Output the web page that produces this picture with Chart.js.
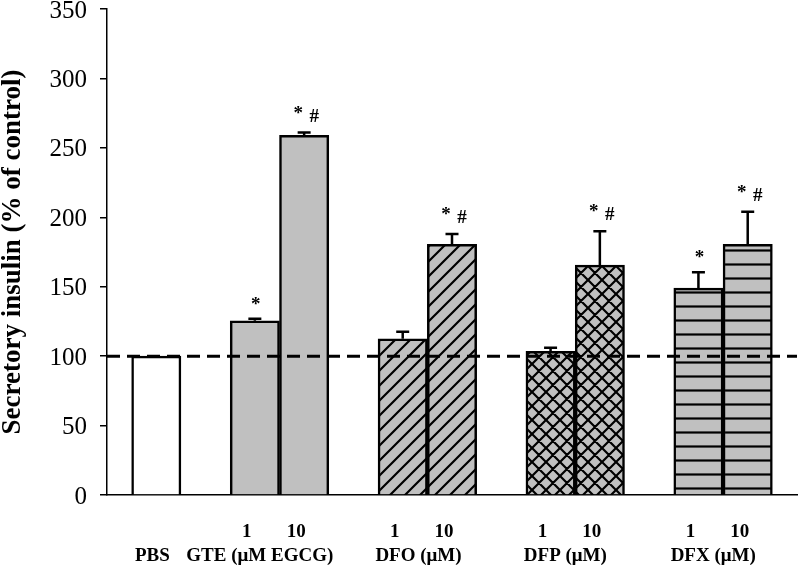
<!DOCTYPE html>
<html>
<head>
<meta charset="utf-8">
<script src="https://cdn.jsdelivr.net/npm/chart.js@4"></script>
<style>
  body { margin: 0; background: #fff; }
  canvas { display: block; }
</style>
</head>
<body>
<canvas id="insulin-chart" width="800" height="573"></canvas>
<script>
// one slot per category, blank slots are the gaps between groups
const categories = ['', 'PBS', '', 'GTE 1', 'GTE 10', '', 'DFO 1', 'DFO 10', '', 'DFP 1', 'DFP 10', '', 'DFX 1', 'DFX 10', ''];
const doses = ['', '', '', '1', '10', '', '1', '10', '', '1', '10', '', '1', '10', ''];
const insulin = [null, 100, null, 125.5, 259, null, 112.5, 180.5, null, 103.5, 165.5, null, 149, 180.5, null];
const sem = [null, 0, null, 1.5, 2, null, 5, 7.5, null, 2.5, 24.5, null, 11.5, 23.5, null];
const marks = ['', '', '', '*', '* #', '', '', '* #', '', '', '* #', '', '*', '* #', ''];
const groups = ['PBS', 'GTE (μM EGCG)', 'DFO (μM)', 'DFP (μM)', 'DFX (μM)'];
const groupTicks = [0.92, 3.1, 6.32, 9.3, 12.3];
const yTicks = [0, 50, 100, 150, 200, 250, 300, 350];
const controlLevel = 100;

const serif = 'Liberation Serif';

function hatch(kind) {
    const s = kind === 'diag' ? 15 : 14;
    const c = document.createElement('canvas');
    c.width = s; c.height = s;
    const g = c.getContext('2d');
    g.fillStyle = '#c0c0c0';
    g.fillRect(0, 0, s, s);
    g.strokeStyle = '#000';
    g.lineWidth = 2.2;
    g.beginPath();
    if (kind === 'diag' || kind === 'cross') {
        g.moveTo(-2, s + 2); g.lineTo(s + 2, -2);
        g.moveTo(-2, 2); g.lineTo(2, -2);
        g.moveTo(s - 2, s + 2); g.lineTo(s + 2, s - 2);
    }
    if (kind === 'cross') {
        g.moveTo(-2, -2); g.lineTo(s + 2, s + 2);
        g.moveTo(s - 2, -2); g.lineTo(s + 2, 2);
        g.moveTo(-2, s - 2); g.lineTo(2, s + 2);
    }
    if (kind === 'horiz') {
        g.moveTo(0, s - 1.5); g.lineTo(s, s - 1.5);
    }
    g.stroke();
    return g.createPattern(c, 'repeat');
}

const gray = '#c0c0c0';
const diag = hatch('diag'), cross = hatch('cross'), horiz = hatch('horiz');
const fills = ['#fff', '#fff', '#fff', gray, gray, '#fff', diag, diag, '#fff', cross, cross, '#fff', horiz, horiz, '#fff'];

// error bars (upper only) and significance marks
const extras = {
    id: 'extras',
    afterDatasetsDraw(chart) {
        const ctx = chart.ctx;
        const x = chart.scales.x, y = chart.scales.y;
        ctx.save();
        ctx.strokeStyle = '#000';
        ctx.fillStyle = '#000';
        ctx.lineWidth = 2.5;
        for (let i = 0; i < insulin.length; i++) {
            if (insulin[i] === null) continue;
            const px = x.getPixelForValue(i);
            const base = y.getPixelForValue(insulin[i]);
            const top = y.getPixelForValue(insulin[i] + sem[i]);
            if (sem[i] > 0) {
                ctx.beginPath();
                ctx.moveTo(px, base);
                ctx.lineTo(px, top);
                ctx.moveTo(px - 6.5, top);
                ctx.lineTo(px + 6.5, top);
                ctx.stroke();
            }
            ctx.font = 'bold 19px "' + serif + '"';
            ctx.textAlign = 'center';
            ctx.textBaseline = 'alphabetic';
            if (marks[i] === '*') {
                ctx.fillText('*', px + 1, top - 19 + 10);
            } else if (marks[i] === '* #') {
                ctx.fillText('*', px - 6, top - 24 + 10);
                ctx.fillText('#', px + 10, top - 17 + 6);
            }
        }
        ctx.restore();
    }
};

const ctx = document.getElementById('insulin-chart').getContext('2d');

new Chart(ctx, {
    type: 'bar',
    plugins: [extras],
    data: {
        labels: categories,
        datasets: [{
            type: 'line',
            data: categories.map(() => controlLevel),
            borderColor: '#000',
            borderWidth: 3,
            borderDash: [13, 7],
            pointRadius: 0,
            fill: false,
            order: 0
        }, {
            data: insulin,
            backgroundColor: fills,
            borderColor: '#000',
            borderWidth: 2.5,
            barPercentage: 1,
            categoryPercentage: 1,
            order: 1
        }]
    },
    options: {
        responsive: false,
        animation: false,
        layout: {
            padding: { top: 0, right: 3, bottom: 0, left: 0 }
        },
        scales: {
            y: {
                min: 0,
                max: 350,
                afterBuildTicks: (scale) => { scale.ticks = yTicks.map(v => ({ value: v })); },
                afterFit: (scale) => {
                    scale.width = 107;
                    scale.paddingTop = 9;
                    scale.paddingBottom = 0;
                },
                ticks: {
                    color: '#000',
                    padding: 13,
                    labelOffset: 2,
                    font: { family: serif, size: 25, lineHeight: 0.72 }
                },
                grid: {
                    drawOnChartArea: false,
                    drawTicks: true,
                    tickLength: 7,
                    color: '#000',
                    lineWidth: 1.5
                },
                border: { color: '#000', width: 1.5 },
                title: {
                    display: true,
                    text: 'Secretory insulin (% of control)',
                    color: '#000',
                    padding: { top: 0, bottom: 0 },
                    font: { family: serif, size: 27, weight: 'bold', lineHeight: 1 }
                }
            },
            x: {
                type: 'category',
                offset: false,
                weight: 0,
                afterFit: (scale) => {
                    scale.height = 49;
                    scale.paddingLeft = 0;
                    scale.paddingRight = 0;
                },
                ticks: {
                    autoSkip: false,
                    maxRotation: 0,
                    color: '#000',
                    padding: 26,
                    labelOffset: -8,
                    font: { family: serif, size: 19, weight: 'bold', lineHeight: 1.2 },
                    callback: (val, i) => doses[i]
                },
                grid: { display: true, offset: false, drawOnChartArea: false, drawTicks: false },
                border: { color: '#000', width: 1.5 }
            },
            x2: {
                type: 'linear',
                position: 'bottom',
                offset: false,
                weight: 1,
                min: 0,
                max: 14,
                afterBuildTicks: (scale) => { scale.ticks = groupTicks.map(v => ({ value: v })); },
                afterFit: (scale) => {
                    scale.height = 29;
                    scale.paddingLeft = 0;
                    scale.paddingRight = 0;
                },
                ticks: {
                    autoSkip: false,
                    maxRotation: 0,
                    color: '#000',
                    padding: 1,
                    font: { family: serif, size: 19, weight: 'bold', lineHeight: 1.2 },
                    callback: (val, i) => groups[i]
                },
                grid: { display: false, offset: false, drawTicks: false },
                border: { display: false }
            }
        },
        plugins: {
            legend: { display: false },
            tooltip: { enabled: false }
        }
    }
});
</script>
</body>
</html>
